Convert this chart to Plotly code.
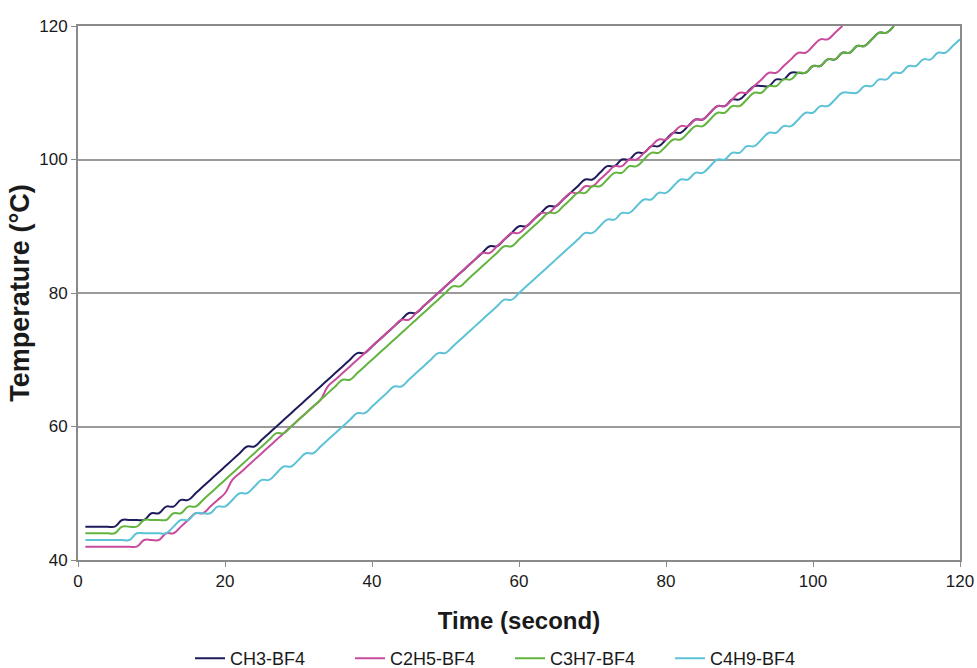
import plotly.graph_objects as go

# Heating curves: temperature (°C) logged once per second
ch3_bf4 = [
    45, 45, 45, 45, 45, 46, 46, 46, 46, 47,
    47, 48, 48, 49, 49, 50, 51, 52, 53, 54,
    55, 56, 57, 57, 58, 59, 60, 61, 62, 63,
    64, 65, 66, 67, 68, 69, 70, 71, 71, 72,
    73, 74, 75, 76, 77, 77, 78, 79, 80, 81,
    82, 83, 84, 85, 86, 87, 87, 88, 89, 90,
    90, 91, 92, 93, 93, 94, 95, 96, 97, 97,
    98, 99, 99, 100, 100, 101, 101, 102, 102, 103,
    104, 104, 105, 106, 106, 107, 108, 108, 109, 109,
    110, 111, 111, 111, 112, 112, 113, 113, 113, 114,
    114, 115, 115, 116, 116, 117, 117, 118, 119, 119, 120,
]
c2h5_bf4 = [
    42, 42, 42, 42, 42, 42, 42, 42, 43, 43,
    43, 44, 44, 45, 46, 47, 47, 48, 49, 50,
    52, 53, 54, 55, 56, 57, 58, 59, 60, 61,
    62, 63, 64, 66, 67, 68, 69, 70, 71, 72,
    73, 74, 75, 76, 76, 77, 78, 79, 80, 81,
    82, 83, 84, 85, 86, 86, 87, 88, 89, 89,
    90, 91, 92, 92, 93, 94, 95, 95, 96, 96,
    97, 98, 99, 99, 100, 100, 101, 102, 103, 103,
    104, 105, 105, 106, 106, 107, 108, 108, 109, 110,
    110, 111, 112, 113, 113, 114, 115, 116, 116, 117,
    118, 118, 119, 120,
]
c3h7_bf4 = [
    44, 44, 44, 44, 44, 45, 45, 45, 46, 46,
    46, 46, 47, 47, 48, 48, 49, 50, 51, 52,
    53, 54, 55, 56, 57, 58, 59, 59, 60, 61,
    62, 63, 64, 65, 66, 67, 67, 68, 69, 70,
    71, 72, 73, 74, 75, 76, 77, 78, 79, 80,
    81, 81, 82, 83, 84, 85, 86, 87, 87, 88,
    89, 90, 91, 92, 92, 93, 94, 95, 95, 96,
    96, 97, 98, 98, 99, 99, 100, 101, 101, 102,
    103, 103, 104, 105, 105, 106, 107, 107, 108, 108,
    109, 110, 110, 111, 111, 112, 112, 113, 113, 114,
    114, 115, 115, 116, 116, 117, 117, 118, 119, 119, 120,
]
c4h9_bf4 = [
    43, 43, 43, 43, 43, 43, 43, 44, 44, 44,
    44, 44, 45, 46, 46, 47, 47, 47, 48, 48,
    49, 50, 50, 51, 52, 52, 53, 54, 54, 55,
    56, 56, 57, 58, 59, 60, 61, 62, 62, 63,
    64, 65, 66, 66, 67, 68, 69, 70, 71, 71,
    72, 73, 74, 75, 76, 77, 78, 79, 79, 80,
    81, 82, 83, 84, 85, 86, 87, 88, 89, 89,
    90, 91, 91, 92, 92, 93, 94, 94, 95, 95,
    96, 97, 97, 98, 98, 99, 100, 100, 101, 101,
    102, 102, 103, 104, 104, 105, 105, 106, 107, 107,
    108, 108, 109, 110, 110, 110, 111, 111, 112, 112,
    113, 113, 114, 114, 115, 115, 116, 116, 117, 118,
]

series_names = ["CH3-BF4", "C2H5-BF4", "C3H7-BF4", "C4H9-BF4"]
series_values = [ch3_bf4, c2h5_bf4, c3h7_bf4, c4h9_bf4]
series_colors = ["#1e1b5c", "#c84b9c", "#63b43f", "#5cc2d6"]

x_ticks = [0, 20, 40, 60, 80, 100, 120]
y_ticks = [40, 60, 80, 100, 120]

FONT = "Liberation Sans, Arial, sans-serif"
AXIS_GRAY = "#8a8a8a"

fig = go.Figure()
for name, vals, color in zip(series_names, series_values, series_colors):
    fig.add_trace(go.Scatter(
        x=list(range(1, len(vals) + 1)),
        y=vals,
        mode="lines",
        name=name,
        line=dict(color=color, width=2, shape="spline", smoothing=1.2),
    ))

fig.update_layout(
    width=977,
    height=668,
    margin=dict(l=78, r=17, t=26, b=108, autoexpand=False),
    paper_bgcolor="white",
    plot_bgcolor="white",
    font=dict(family=FONT, color="#1a1a1a", size=15),
    showlegend=True,
    legend=dict(
        orientation="h",
        x=0.127,
        xanchor="left",
        yref="container",
        y=0.014,
        yanchor="middle",
        entrywidth=115,
        font=dict(family=FONT, size=18, color="#1a1a1a"),
        bgcolor="rgba(0,0,0,0)",
    ),
)

fig.update_xaxes(
    range=[0, 120],
    tickvals=x_ticks,
    ticks="outside",
    ticklen=5,
    tickcolor=AXIS_GRAY,
    tickfont=dict(family=FONT, size=17, color="#1a1a1a"),
    showline=True,
    linecolor=AXIS_GRAY,
    linewidth=2,
    mirror=True,
    showgrid=False,
    zeroline=False,
    automargin=False,
    title=dict(text="<b>Time (second)</b>",
               font=dict(family=FONT, size=24, color="#1a1a1a"),
               standoff=22),
)

fig.update_yaxes(
    range=[40, 120],
    tickvals=y_ticks,
    ticks="outside",
    ticklen=5,
    tickcolor=AXIS_GRAY,
    tickfont=dict(family=FONT, size=17, color="#1a1a1a"),
    showline=True,
    linecolor=AXIS_GRAY,
    linewidth=2,
    mirror=True,
    showgrid=True,
    gridcolor="#9a9a9a",
    gridwidth=1.5,
    zeroline=False,
    automargin=False,
    title=dict(text="<b>Temperature (°C)</b>",
               font=dict(family=FONT, size=27, color="#1a1a1a"),
               standoff=2),
)

fig.write_html("out.html")
